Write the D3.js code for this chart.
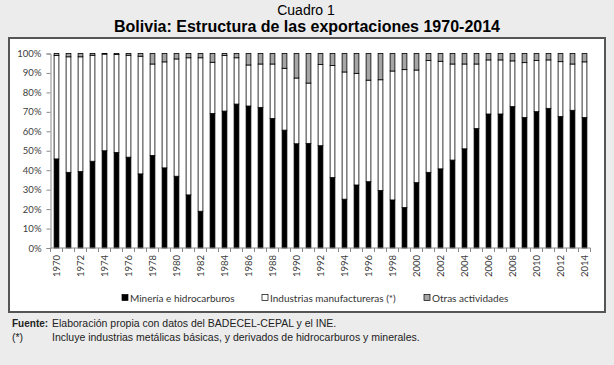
<!DOCTYPE html>
<html>
<head>
<meta charset="utf-8">
<script src="https://cdn.jsdelivr.net/npm/d3@7"></script>
<style>
  html, body { margin: 0; padding: 0; background: #ececec; }
  svg { display: block; }
</style>
</head>
<body>
<div id="chart"></div>
<script>
// Años y participación (%) de cada sector en las exportaciones
var years = d3.range(1970, 2015);
var mineria = [45.8, 38.9, 39.3, 44.6, 50.0, 49.1, 46.7, 38.1, 47.6, 41.2,
  36.9, 27.3, 18.9, 69.2, 70.4, 74.0, 73.0, 72.3, 66.6, 60.6,
  53.6, 53.8, 52.6, 36.2, 25.1, 32.4, 34.1, 29.6, 24.7, 20.8,
  33.6, 38.9, 40.7, 45.2, 51.0, 61.4, 68.9, 68.9, 72.7, 67.1,
  70.1, 71.8, 67.6, 70.8, 67.1];
// tope de la barra blanca (minería + industrias)
var topIndustria = [99.0, 98.3, 98.3, 99.1, 99.7, 99.5, 99.1, 98.6, 94.6, 95.7,
  97.2, 97.8, 97.8, 95.5, 99.0, 97.8, 94.1, 94.6, 94.6, 92.4,
  87.4, 84.8, 94.3, 93.8, 90.5, 89.8, 86.3, 86.5, 91.0, 91.7,
  91.5, 96.4, 96.0, 94.6, 94.6, 94.6, 96.7, 96.7, 96.2, 95.3,
  96.4, 96.7, 95.8, 94.6, 95.7];
var industria = topIndustria.map(function(t, i) { return +(t - mineria[i]).toFixed(1); });
var otras = topIndustria.map(function(t) { return +(100 - t).toFixed(1); });

var seriesNames = ['Minería e hidrocarburos', 'Industrias manufactureras (*)', 'Otras actividades'];
var seriesColors = ['#000000', '#ffffff', '#a6a6a6'];
var yTicks = [0, 10, 20, 30, 40, 50, 60, 70, 80, 90, 100];

var W = 614, H = 365;
var svg = d3.select('#chart').append('svg')
  .attr('width', W)
  .attr('height', H);

// titles
svg.append('text')
  .attr('x', 306).attr('y', 14.5)
  .attr('text-anchor', 'middle')
  .style('font-family', 'Liberation Sans, Arial, sans-serif')
  .style('font-size', '14px')
  .text('Cuadro 1');
svg.append('text')
  .attr('x', 307).attr('y', 32)
  .attr('text-anchor', 'middle')
  .style('font-family', 'Liberation Sans, Arial, sans-serif')
  .style('font-size', '16px')
  .style('font-weight', 'bold')
  .text('Bolivia: Estructura de las exportaciones 1970-2014');

// white panel with frame
svg.append('rect')
  .attr('x', 9).attr('y', 38)
  .attr('width', 596).attr('height', 274)
  .attr('fill', '#fff')
  .attr('stroke', '#555')
  .attr('stroke-width', 2);

var x = d3.scaleBand()
  .domain(years)
  .range([50.5, 590.5])
  .paddingInner(0.6)
  .paddingOuter(0.3);

var y = d3.scaleLinear()
  .domain([0, 100])
  .range([248, 53.5]);

// stack data
var table = years.map(function(yr, i) {
  return { year: yr, m: mineria[i], ind: industria[i], o: otras[i] };
});
var stack = d3.stack().keys(['m', 'ind', 'o']);
var stacked = stack(table);

var g = svg.append('g');
g.selectAll('g.serie')
  .data(stacked)
  .enter()
  .append('g')
  .attr('class', 'serie')
  .attr('fill', function(d, i) { return seriesColors[i]; })
  .selectAll('rect')
  .data(function(d) { return d; })
  .enter()
  .append('rect')
  .attr('x', function(d) { return x(d.data.year); })
  .attr('y', function(d) { return y(d[1]); })
  .attr('width', x.bandwidth())
  .attr('height', function(d) { return y(d[0]) - y(d[1]); })
  .attr('stroke', '#000')
  .attr('stroke-width', 0.8);

// y axis
var yAxis = d3.axisLeft(y)
  .tickValues(yTicks)
  .tickSize(4)
  .tickPadding(5)
  .tickFormat(function(d) { return d + '%'; });
var yg = svg.append('g')
  .attr('transform', 'translate(50.5,0)')
  .call(yAxis);

// x axis: ticks at category boundaries
var step = x.step();
var xStart = x.range()[0];
var xg = svg.append('g').attr('transform', 'translate(0,248)');
xg.append('line')
  .attr('x1', xStart).attr('x2', x.range()[1])
  .attr('y1', 0).attr('y2', 0);
xg.selectAll('line.tick')
  .data(d3.range(years.length + 1))
  .enter()
  .append('line')
  .attr('class', 'tick')
  .attr('x1', function(i) { return xStart + i * step; })
  .attr('x2', function(i) { return xStart + i * step; })
  .attr('y1', 0).attr('y2', 4);
xg.selectAll('text')
  .data(years.filter(function(d) { return d % 2 === 0; }))
  .enter()
  .append('text')
  .attr('transform', function(d) {
    return 'translate(' + (x(d) + x.bandwidth() / 2 + 3.5) + ',7) rotate(-90)';
  })
  .attr('text-anchor', 'end')
  .text(function(d) { return d; });

[yg, xg].forEach(function(a) {
  a.selectAll('line, path.domain')
    .attr('stroke', '#8a8a8a')
    .attr('stroke-width', 1);
  a.selectAll('text')
    .attr('fill', '#404040')
    .style('font-family', 'Lato, Open Sans, sans-serif')
    .style('font-size', '9.5px');
});

// legend
var legendX = [122, 262, 424];
var legend = svg.append('g').attr('transform', 'translate(0,299)');
seriesNames.forEach(function(name, i) {
  legend.append('rect')
    .attr('x', legendX[i]).attr('y', -4.5)
    .attr('width', 6).attr('height', 6)
    .attr('fill', seriesColors[i])
    .attr('stroke', '#000')
    .attr('stroke-width', 0.7);
  legend.append('text')
    .attr('x', legendX[i] + 8).attr('y', 2.8)
    .attr('fill', '#333')
    .style('font-family', 'Lato, Open Sans, sans-serif')
    .style('font-size', '10px')
    .text(name);
});

// notes
var notes = svg.append('g')
  .style('font-family', 'Liberation Sans, Arial, sans-serif')
  .style('font-size', '10.5px')
  .attr('fill', '#222');
notes.append('text').attr('x', 12).attr('y', 327)
  .style('font-size', '10px')
  .style('font-weight', 'bold').text('Fuente:');
notes.append('text').attr('x', 52).attr('y', 327)
  .text('Elaboración propia con datos del BADECEL-CEPAL y el INE.');
notes.append('text').attr('x', 12).attr('y', 341).text('(*)');
notes.append('text').attr('x', 52).attr('y', 341)
  .text('Incluye industrias metálicas básicas, y derivados de hidrocarburos y minerales.');
</script>
</body>
</html>
